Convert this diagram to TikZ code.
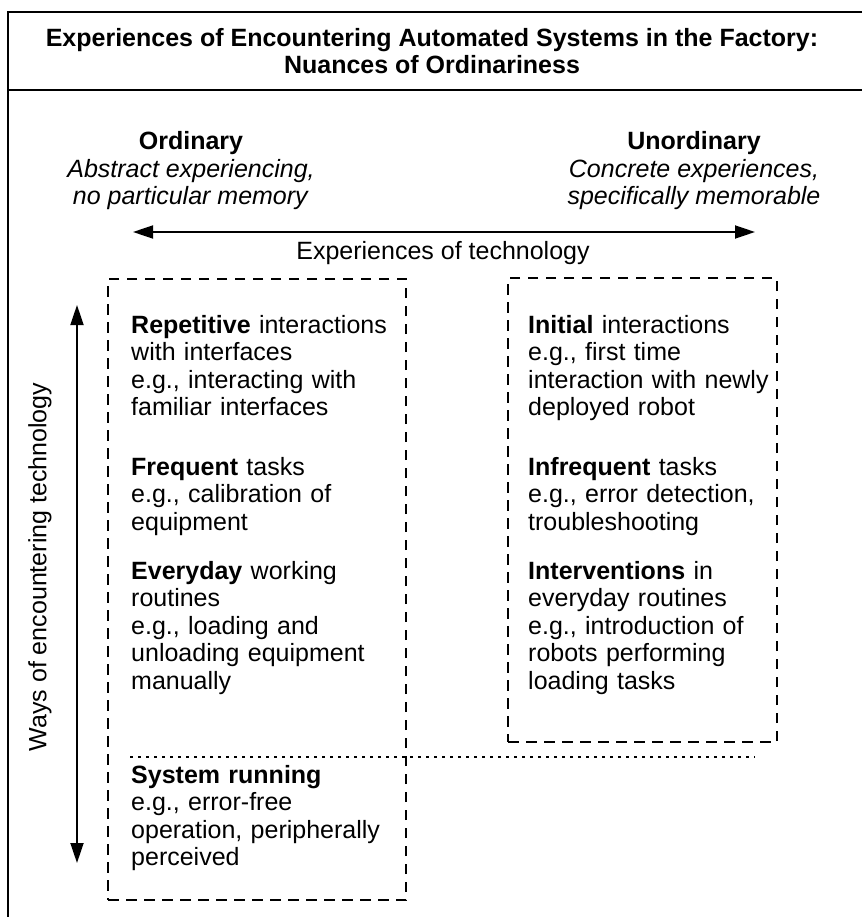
\documentclass[tikz,border=0pt]{standalone}
\usepackage{fontspec}
\setmainfont{Liberation Sans}
\usetikzlibrary{arrows.meta}
\begin{document}
\begin{tikzpicture}[x=1pt,y=-1pt,
  txt/.style={font=\fontsize{25}{27.5}\selectfont, inner sep=0pt},
  blk/.style={txt, anchor=base west, text width=290pt, align=left},
  hdr/.style={txt, align=center},
  frame/.style={line width=2.4pt},
  dbox/.style={draw, line width=2.4pt, dash pattern=on 10.5pt off 7.5pt, inner sep=0pt, anchor=north west},
  dline/.style={line width=2.4pt, dash pattern=on 3pt off 5pt},
  arr/.style={line width=1.8pt, {Triangle[length=20pt,width=13pt]}-{Triangle[length=20pt,width=13pt]}}]
\useasboundingbox (0,0) rectangle (862,917);
% outer frame
\draw[frame] (862,12) -- (8,12) -- (8,917);
\draw[frame] (8,90) -- (862,90);
% title
\node[hdr, font=\fontsize{25}{27.5}\selectfont\bfseries] (title) at (432,51)
  {Experiences of Encountering Automated Systems in the Factory:\\Nuances of Ordinariness};
% headers
\node[hdr] (ord) at (191,171) {\textbf{Ordinary}\\\textit{Abstract experiencing,}\\\textit{no particular memory}};
\node[hdr] (unord) at (694,171) {\textbf{Unordinary}\\\textit{Concrete experiences,}\\\textit{specifically memorable}};
% horizontal arrow
\coordinate (hl) at (133,232);
\coordinate (hr) at (755,232);
\draw[arr] (hl) -- (hr);
\node[txt] (exptech) at (443,253) {Experiences of technology};
% vertical arrow
\coordinate (vt) at (77,305);
\coordinate (vb) at (77,863);
\draw[arr] (vt) -- (vb);
\node[txt, rotate=90] (ways) at (40,567) {Ways of encountering technology};
% dashed boxes
\node[dbox, minimum width=298pt, minimum height=621pt] (lbox) at (107,278) {};
\node[dbox, minimum width=269pt, minimum height=464pt] (rbox) at (507,277) {};
% dotted line
\coordinate (d1) at (130,757);
\coordinate (d2) at (755,757);
\draw[dline] (d1) -- (d2);
% left column
\node[blk] (rep) at (131,333) {\textbf{Repetitive} interactions\\with interfaces\\e.g., interacting with\\familiar interfaces};
\node[blk] (freq) at (131,475) {\textbf{Frequent} tasks\\e.g., calibration of\\equipment};
\node[blk] (every) at (131,579) {\textbf{Everyday} working\\routines\\e.g., loading and\\unloading equipment\\manually};
\node[blk] (sys) at (131,783) {\textbf{System running}\\e.g., error-free\\operation, peripherally\\perceived};
% right column
\node[blk] (init) at (528,333) {\textbf{Initial} interactions\\e.g., first time\\interaction with newly\\deployed robot};
\node[blk] (infreq) at (528,475) {\textbf{Infrequent} tasks\\e.g., error detection,\\troubleshooting};
\node[blk] (interv) at (528,579) {\textbf{Interventions} in\\everyday routines\\e.g., introduction of\\robots performing\\loading tasks};
\end{tikzpicture}
\end{document}
